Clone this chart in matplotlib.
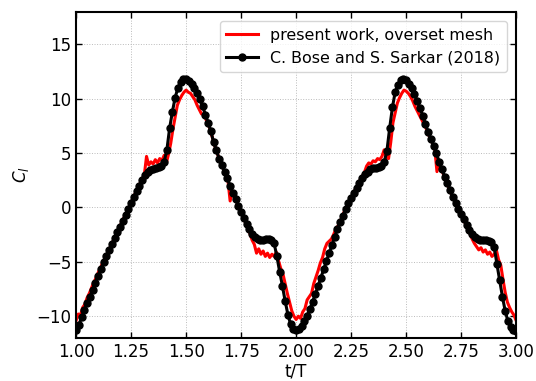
import numpy as np
import matplotlib
matplotlib.use('Agg')
import matplotlib.pyplot as plt

# C_l over two cycles, present overset-mesh run (sampled every 0.01 t/T)
t_present = np.round(np.arange(1.0, 3.0001, 0.01), 4)
cl_present = [
	-10.4, -9.8, -9.9, -9.2, -8.9, -8.3, -7.9, -7.4, -6.9, -6.5,
	-6.0, -5.6, -5.1, -4.7, -4.3, -3.85, -3.45, -3.0, -2.6, -2.15,
	-1.7, -1.25, -0.85, -0.4, 0.0, 0.45, 0.9, 1.35, 1.8, 2.2,
	2.6, 3.0, 4.7, 3.9, 4.2, 4.0, 4.4, 4.1, 4.5, 4.3,
	4.8, 4.1, 4.9, 5.9, 7.2, 8.3, 9.4, 9.9, 10.3, 10.6,
	10.8, 10.6, 10.5, 10.2, 9.9, 9.4, 9.0, 8.6, 8.6, 8.1,
	7.7, 7.1, 6.4, 5.7, 5.1, 4.5, 4.0, 3.5, 3.05, 2.5,
	0.6, 1.5, 1.0, 0.5, 0.0, -0.5, -0.9, -1.4, -1.8, -2.4,
	-3.0, -3.4, -4.2, -3.8, -4.3, -4.0, -4.5, -4.2, -4.6, -4.3,
	-4.5, -4.1, -4.9, -5.6, -6.1, -7.0, -7.9, -8.7, -9.5, -10.0,
	-10.3, -10.0, -10.2, -9.6, -9.3, -8.5, -8.2, -7.9, -7.0, -6.4,
	-5.8, -5.1, -4.6, -3.8, -3.3, -3.1, -2.9, -2.5, -2.0, -1.7,
	-1.3, -0.8, -0.3, 0.1, 0.5, 0.9, 1.3, 1.7, 2.1, 2.5,
	2.85, 3.2, 3.8, 4.1, 4.0, 4.3, 4.2, 4.5, 4.4, 4.7,
	5.3, 4.6, 4.5, 6.0, 7.8, 8.7, 9.6, 10.1, 10.5, 10.8,
	10.7, 10.5, 10.2, 9.8, 9.3, 8.9, 8.5, 8.1, 7.7, 7.3,
	6.8, 6.3, 5.9, 5.4, 3.3, 4.3, 3.6, 3.0, 2.5, 2.0,
	1.5, 1.0, 0.6, 0.1, -0.3, -0.7, -1.1, -1.5, -1.9, -2.4,
	-2.9, -3.3, -3.6, -3.9, -3.7, -4.1, -3.9, -4.3, -4.1, -4.5,
	-4.3, -3.9, -4.8, -5.3, -6.6, -7.8, -8.7, -9.2, -9.6, -9.9,
	-10.4,
]

# reference data, Bose & Sarkar (2018), every 0.0125 t/T
t_bose = np.round(np.arange(1.0, 3.0001, 0.0125), 4)
cl_bose = [
	-11.3, -10.8, -10.1, -9.45, -8.8, -8.2, -7.55, -6.9, -6.3, -5.65,
	-5.0, -4.45, -3.9, -3.35, -2.8, -2.3, -1.75, -1.2, -0.65, -0.1,
	0.45, 1.0, 1.5, 2.0, 2.5, 2.95, 3.25, 3.45, 3.58, 3.65,
	3.72, 3.85, 4.2, 5.3, 7.3, 8.8, 10.1, 11.0, 11.55, 11.85,
	11.8, 11.6, 11.35, 11.0, 10.55, 9.95, 9.3, 8.55, 7.8, 7.0,
	6.0, 5.25, 4.5, 3.9, 3.3, 2.7, 1.95, 1.35, 0.75, 0.15,
	-0.45, -1.0, -1.55, -2.0, -2.4, -2.7, -2.88, -2.95, -2.95, -2.9,
	-2.88, -2.95, -3.3, -4.5, -5.9, -7.2, -8.6, -9.85, -10.75, -11.2,
	-11.3, -11.15, -10.9, -10.45, -9.95, -9.35, -8.65, -7.95, -7.2, -6.45,
	-5.7, -4.95, -4.2, -3.45, -2.7, -2.0, -1.35, -0.75, -0.15, 0.4,
	0.9, 1.35, 1.8, 2.25, 2.7, 3.05, 3.3, 3.5, 3.6, 3.65,
	3.72, 3.85, 4.15, 5.2, 7.3, 9.2, 10.6, 11.3, 11.7, 11.8,
	11.7, 11.4, 10.95, 10.4, 9.8, 9.15, 8.45, 7.7, 6.95, 6.3,
	5.7, 5.0, 4.2, 3.5, 2.85, 2.25, 1.6, 0.95, 0.4, -0.1,
	-0.6, -1.1, -1.6, -2.05, -2.45, -2.75, -2.92, -3.0, -3.02, -3.02,
	-3.05, -3.15, -3.6, -5.2, -6.7, -8.2, -9.5, -10.45, -11.0, -11.3,
	-11.4,
]

xticks = [1.00, 1.25, 1.50, 1.75, 2.00, 2.25, 2.50, 2.75, 3.00]
yticks = [-10, -5, 0, 5, 10, 15]

fig = plt.figure(figsize=(5.36, 3.81), dpi=100)
ax = fig.add_axes([0.142, 0.113, 0.821, 0.856])

ax.plot(t_present, cl_present, color='red', lw=2.2, label='present work, overset mesh', zorder=2)
ax.plot(t_bose, cl_bose, color='black', lw=2.2, marker='o', ms=5,
	label='C. Bose and S. Sarkar (2018)', zorder=3)

ax.set_xlim(1.0, 3.0)
ax.set_ylim(-12, 18)
ax.set_xticks(xticks)
ax.set_xticklabels(['%.2f' % x for x in xticks])
ax.set_yticks(yticks)

ax.tick_params(direction='in', top=True, right=True, labelsize=12, width=1, length=4)
ax.grid(True, ls=':', color='#bbbbbb', lw=0.7)
for s in ax.spines.values():
	s.set_linewidth(1.5)

ax.set_xlabel('t/T', fontsize=12, labelpad=1)
ax.set_ylabel('$C_l$', fontsize=12)

ax.legend(loc='upper right', fontsize=11.4, handlelength=2.0, numpoints=1, borderaxespad=0.6)

fig.savefig('out.png', dpi=100)
